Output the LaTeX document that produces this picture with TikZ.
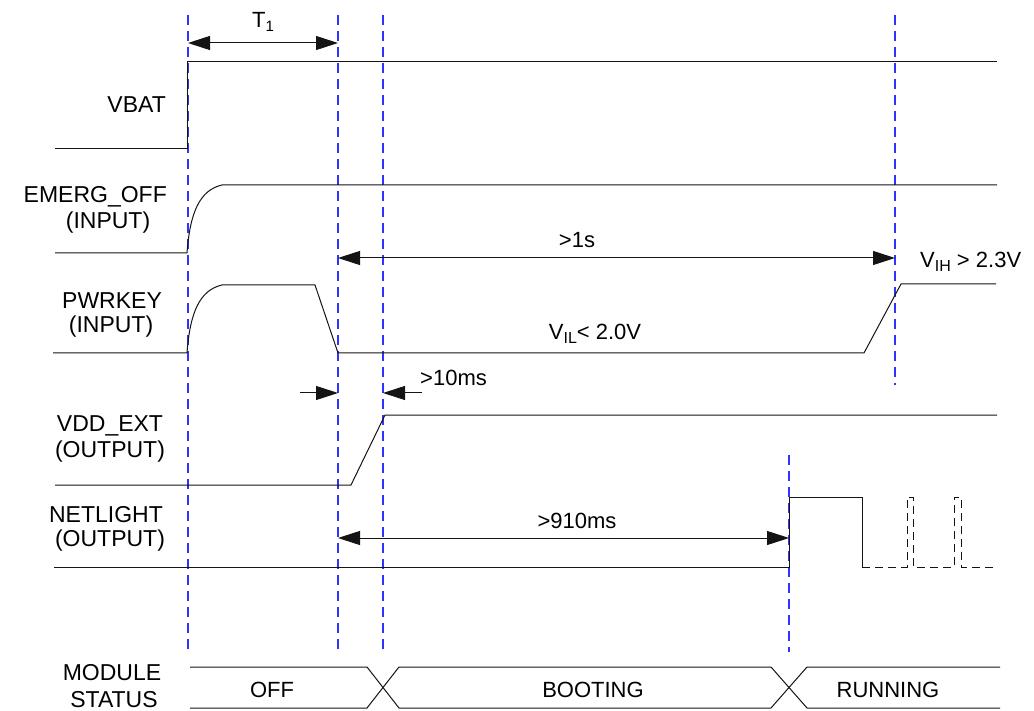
\documentclass[tikz,border=0pt]{standalone}
\usepackage{fontspec}
\setmainfont{Liberation Sans}
\usetikzlibrary{arrows.meta}
\definecolor{gridblue}{RGB}{50,50,255}
\definecolor{sigcol}{RGB}{20,20,20}
\begin{document}
\begin{tikzpicture}[x=1pt,y=-1pt,
  sig/.style={line width=1pt, draw=sigcol},
  sigdash/.style={line width=1pt, draw=sigcol, dash pattern=on 8pt off 5pt},
  gridline/.style={line width=1.2pt, draw=gridblue, dash pattern=on 10pt off 6pt},
  dimline/.style={line width=1pt, draw=sigcol, {Triangle[length=22pt,width=14pt]}-{Triangle[length=22pt,width=14pt]}},
  oneway/.style={line width=1pt, draw=sigcol, -{Triangle[length=22pt,width=14pt]}},
  lbl/.style={font=\fontsize{23}{26}\selectfont, inner sep=0pt},
  txt/.style={font=\fontsize{22}{25}\selectfont, inner sep=0pt}]
\useasboundingbox (0,0) rectangle (1034,711);
% grid lines
\coordinate (g1t) at (188,15);  \coordinate (g1b) at (188,652);
\coordinate (g2t) at (338,15);  \coordinate (g2b) at (338,652);
\coordinate (g3t) at (383,15);  \coordinate (g3b) at (383,652);
\coordinate (g4t) at (895,15);  \coordinate (g4b) at (895,385);
\coordinate (g5t) at (789,455); \coordinate (g5b) at (789,652);
\draw[gridline] (g1t) -- (g1b);
\draw[gridline] (g2t) -- (g2b);
\draw[gridline] (g3t) -- (g3b);
\draw[gridline] (g4t) -- (g4b);
\draw[gridline] (g5t) -- (g5b);
% labels
\node[lbl, anchor=east] (vbat) at (166,105) {VBAT};
\node[lbl, anchor=east] (emerg) at (167,197) {EMERG\_OFF};
\node[lbl] (emergin) at (108,223) {(INPUT)};
\node[lbl] (pwr) at (112,301) {PWRKEY};
\node[lbl] (pwrin) at (111,327) {(INPUT)};
\node[lbl] (vdd) at (110,426) {VDD\_EXT};
\node[lbl] (vddout) at (110,452) {(OUTPUT)};
\node[lbl] (net) at (106,515) {NETLIGHT};
\node[lbl] (netout) at (110,541) {(OUTPUT)};
\node[lbl] (mod) at (112,673) {MODULE};
\node[lbl] (stat) at (114,700) {STATUS};
% VBAT
\draw[sig] (55,149) -- (187,149) -- (187,62) -- (997,62);
% EMERG_OFF
\draw[sig] (55,253) -- (187,253) .. controls (190,212) and (200,190) .. (222,185) -- (997,185);
% PWRKEY
\draw[sig] (53,353) -- (187,353) .. controls (190,312) and (200,290) .. (222,285) -- (315,285) -- (338,353) -- (864,353) -- (901,284) -- (996,284);
% VDD_EXT
\draw[sig] (55,485) -- (351,485) -- (385,415) -- (997,415);
% NETLIGHT
\draw[sig] (54,567) -- (789,567) -- (789,497) -- (862,497) -- (862,567);
\draw[sigdash] (862,567) -- (907,567) -- (907,497) -- (913,497) -- (913,567) -- (954,567) -- (954,497) -- (961,497) -- (961,567) -- (997,567);
% MODULE STATUS
\draw[sig] (190,667) -- (367,667) -- (399,708) -- (771,708) -- (807,667) -- (1000,667);
\draw[sig] (190,708) -- (367,708) -- (399,667) -- (771,667) -- (807,708) -- (1000,708);
\node[txt] (off) at (272,690) {OFF};
\node[txt] (boot) at (593,690) {BOOTING};
\node[txt] (run) at (888,690) {RUNNING};
% T1
\coordinate (t1a) at (188,43); \coordinate (t1b) at (338,43);
\draw[dimline] (t1a) -- (t1b);
\node[txt] (t1) at (263,22) {T\raisebox{-0.35ex}{\fontsize{15}{15}\selectfont 1}};
% >1s
\coordinate (s1a) at (338,258); \coordinate (s1b) at (895,258);
\draw[dimline] (s1a) -- (s1b);
\node[txt] (s1) at (577,240) {>1s};
% VIH
\node[txt, anchor=west] (vih) at (920,262) {V\raisebox{-0.35ex}{\fontsize{16}{16}\selectfont IH} > 2.3V};
% VIL
\node[txt] (vil) at (595,334) {V\raisebox{-0.35ex}{\fontsize{16}{16}\selectfont IL}< 2.0V};
% >10ms
\coordinate (m1a) at (300,393); \coordinate (m1b) at (338,393);
\coordinate (m2a) at (422,393); \coordinate (m2b) at (383,393);
\draw[oneway] (m1a) -- (m1b);
\draw[oneway] (m2a) -- (m2b);
\node[txt, anchor=west] (ms10) at (420,378) {>10ms};
% >910ms
\coordinate (n1a) at (338,538); \coordinate (n1b) at (789,538);
\draw[dimline] (n1a) -- (n1b);
\node[txt] (ms910) at (577,521) {>910ms};
\end{tikzpicture}
\end{document}
